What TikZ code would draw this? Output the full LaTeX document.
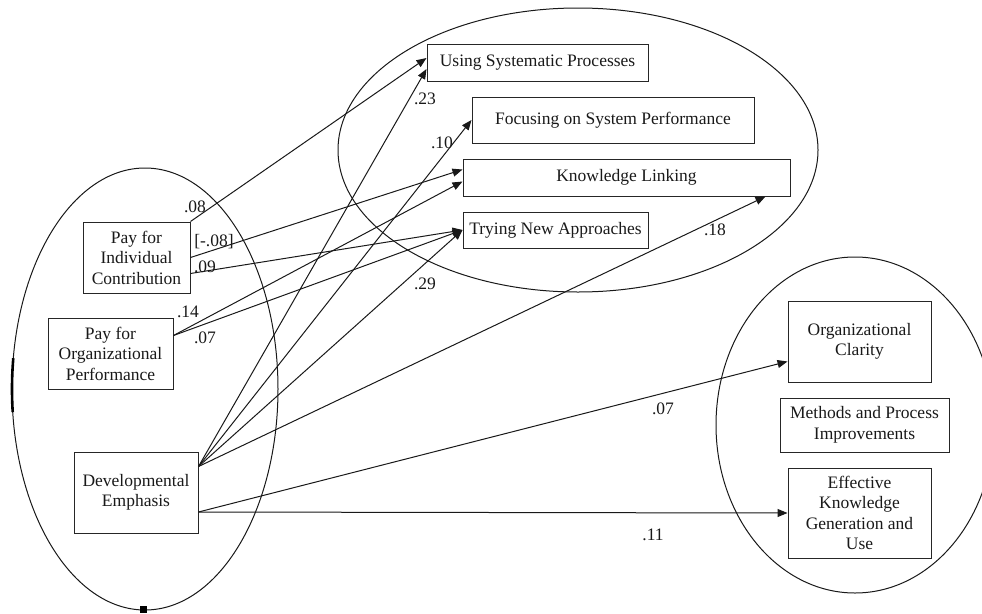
\documentclass[tikz,border=0pt]{standalone}
\usepackage{fontspec}
\setmainfont{Liberation Serif}
\usetikzlibrary{arrows.meta}
\begin{document}
\begin{tikzpicture}[x=1pt,y=-1pt,
  txt/.style={font=\fontsize{17.5}{20.5}\selectfont, text=black!90},
  box/.style={txt, draw=black!85, line width=1pt, inner sep=0pt, align=center},
  coef/.style={txt, inner sep=0pt},
  link/.style={draw=black!90, line width=1pt, -{Triangle[length=10pt,width=8pt]}},
  group/.style={draw=black!90, line width=1pt}]
\useasboundingbox (0,0) rectangle (982,613);
\begin{scope}
\clip (0,0) rectangle (982,613);

% construct groupings
\draw[group] (145,389) ellipse [x radius=133pt, y radius=221pt];
\draw[group] (578,150) ellipse [x radius=240pt, y radius=142pt];
\draw[group] (855,425) ellipse [x radius=139pt, y radius=168pt];

% heavier marks on the left grouping
\draw[draw=black, line width=2.6pt] (145,389) ++(186:133pt and 221pt) arc [start angle=186, end angle=172, x radius=133pt, y radius=221pt];
\fill[black] (140,606) rectangle (147,613);
\end{scope}

% predictors
\node[box, minimum width=107pt, minimum height=71pt] (pic) at (136.5,257.5) {Pay for\\Individual\\Contribution};
\node[box, minimum width=125pt, minimum height=71pt] (pop) at (110.5,353.5) {Pay for\\Organizational\\Performance};
\node[box, minimum width=124pt, minimum height=81pt] (de) at (136,492.5) {Developmental\\Emphasis};

% knowledge management practices
\node[box, minimum width=221pt, minimum height=37pt] (usp) at (537.5,62.5) {Using Systematic Processes};
\node[box, minimum width=282pt, minimum height=46pt] (fsp) at (613,120) {Focusing on System Performance};
\node[box, minimum width=327pt, minimum height=37pt] (kl) at (626.5,177.5) {Knowledge Linking};
\node[box, minimum width=185pt, minimum height=36pt] (tna) at (555.5,230) {Trying New Approaches};

% outcomes
\node[box, minimum width=143pt, minimum height=81pt] (oc) at (859.5,341.5) {Organizational\\Clarity};
\node[box, minimum width=169pt, minimum height=54pt] (mpi) at (864.5,425) {Methods and Process\\Improvements};
\node[box, minimum width=143pt, minimum height=90pt] (ekg) at (859.5,513) {Effective\\Knowledge\\Generation and\\Use};

% paths
\coordinate (defan) at ([yshift=26pt]de.east);
\coordinate (delow) at ([yshift=-19.5pt]de.east);
\coordinate (popout) at ([yshift=18pt]pop.east);

\draw[link] (pic.north east) -- ([yshift=4.5pt]usp.west);
\draw[link] (pic.east) -- ([yshift=8pt]kl.west);
\draw[link] ([yshift=-16pt]pic.east) -- (tna.west);
\draw[link] (popout) -- ([yshift=-4pt]kl.west);
\draw[link] (popout) -- (tna.west);
\draw[link] (defan) -- ([yshift=-6.5pt]usp.west);
\draw[link] (defan) -- (fsp.west);
\draw[link] (defan) -- (tna.west);
\draw[link] (defan) -- ([xshift=-25pt]kl.south east);
\draw[link] (delow) -- ([yshift=-20pt]oc.west);
\draw[link] (delow) -- (ekg.west);

% path coefficients
\node[coef] (c1) at (195,207) {.08};
\node[coef] (c2) at (214,242) {[-.08]};
\node[coef] (c3) at (205,267) {.09};
\node[coef] (c4) at (188,312) {.14};
\node[coef] (c5) at (205,338) {.07};
\node[coef] (c6) at (425,99) {.23};
\node[coef] (c7) at (442,143) {.10};
\node[coef] (c8) at (425,284) {.29};
\node[coef] (c9) at (715,230) {.18};
\node[coef] (c10) at (663,409) {.07};
\node[coef] (c11) at (653,535) {.11};
\end{tikzpicture}
\end{document}
